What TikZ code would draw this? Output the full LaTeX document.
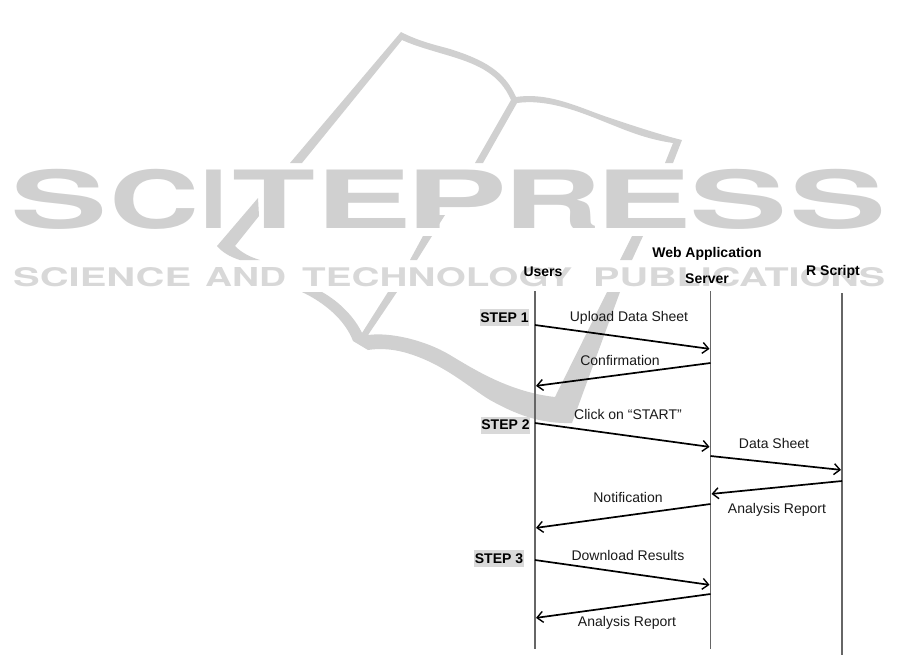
\documentclass[tikz,border=0pt]{standalone}
\usepackage{fontspec}
\usepackage{graphicx}
\usetikzlibrary{arrows.meta}
\setmainfont{Liberation Sans}
\newfontfamily\wmfont{TeX Gyre Heros}
\definecolor{wmgray}{HTML}{D0D0D0}
\definecolor{wmlight}{HTML}{D8D8D8}
\definecolor{stepgray}{HTML}{D9D9D9}
\definecolor{lifegray}{HTML}{666666}
% one watermark letter: left offset, box width, box height, letter
\newcommand\wmlet[4]{\rlap{\hspace*{#1pt}\resizebox{#2pt}{#3pt}{#4}}}
\tikzset{
  lbl/.style={font=\fontsize{14}{16}\selectfont, inner sep=0pt, text=black!90, yshift=-0.6pt},
  head/.style={font=\fontsize{14}{16}\selectfont\bfseries, inner sep=0pt, text=black, yshift=-0.5pt},
  stepbox/.style={font=\fontsize{14}{16}\selectfont\bfseries, inner sep=0pt, fill=stepgray, text=black, anchor=center},
  life/.style={draw=lifegray, line width=1.2pt},
  msg/.style={draw=black, line width=1.7pt, -{Straight Barb[length=6pt,width=11pt,line width=1.4pt]}, shorten >=1pt},
  wm/.style={fill=wmgray, draw=none},
  wmtext/.style={inner sep=0pt, text=wmgray, anchor=base west},
  wmsmall/.style={inner sep=0pt, text=wmlight, anchor=base west, font=\wmfont\bfseries},
}
\begin{document}
\begin{tikzpicture}[x=1pt,y=-1pt]
\useasboundingbox (0,0) rectangle (901,664);
% watermark text
\node[wmtext,font=\wmfont\bfseries] (wmA) at (14,228.5) {%
  \wmlet{-3.5}{97}{59.2}{S}\wmlet{95}{90}{59.2}{C}\wmlet{186.5}{27}{58.5}{I}\wmlet{218}{83}{58.5}{T}\wmlet{301.5}{96.5}{58.5}{E}%
  \wmlet{391}{102}{58.5}{P}\wmlet{489.5}{98}{58.5}{R}\wmlet{581.5}{96.5}{58.5}{E}\wmlet{675.5}{98}{59.2}{S}\wmlet{775.5}{97}{59.2}{S}\hspace*{869pt}};
\node[wmsmall] (wmB) at (13,286) {\resizebox{178pt}{19pt}{SCIENCE}};
\node[wmsmall] (wmC) at (205,286) {\resizebox{81pt}{19pt}{AND}};
\node[wmsmall] (wmD) at (302,286) {\resizebox{270pt}{19pt}{TECHNOLOGY}};
\node[wmsmall] (wmE) at (593,286) {\resizebox{292pt}{19pt}{PUBLICATIONS}};
% watermark book
\fill[wm] (401,32) .. controls (420,42) and (440,46) .. (450,49) .. controls (485,60) and (505,72) .. (516,97)
  .. controls (550,92) and (580,108) .. (610,118) .. controls (640,128) and (665,136) .. (682,140)
  -- (673,163) -- (665,163) -- (673,143) .. controls (645,139) and (625,130) .. (600,120) .. controls (575,110) and (545,99) .. (517,103)
  -- (483,163) -- (475,163) -- (511,100) .. controls (500,75) and (480,65) .. (450,56) .. controls (430,50) and (415,46) .. (402,40)
  -- (302,163) -- (290,163) -- cycle;
\fill[wm] (258,198) -- (259,216) -- (235,246) .. controls (242,253) and (250,257) .. (260,260) -- (240,260) .. controls (230,257) and (222,252) .. (217,246) -- cycle;
\fill[wm] (438,215) -- (445,215) -- (438,226) -- cycle;
\fill[wm] (423,236) -- (432,236) -- (417,260) -- (410,260) -- cycle;
\fill[wm] (632,236) -- (643,236) -- (632,260) -- (620,260) -- cycle;
\fill[wm] (302,292) -- (322,292) .. controls (340,302) and (355,318) .. (362,333) -- (388,292) -- (397,292) -- (368,335)
  .. controls (390,332) and (425,340) .. (450,355) .. controls (475,370) and (510,392) .. (555,397)
  -- (607,292) -- (620,292) -- (572,423) .. controls (540,424) and (515,414) .. (490,400)
  .. controls (470,388) and (445,365) .. (410,354) .. controls (395,349) and (380,348) .. (368,350)
  -- (353,341) .. controls (345,320) and (325,303) .. (302,292) -- cycle;
% lifelines
\coordinate (ut) at (535,291); \coordinate (ub) at (535,649);
\coordinate (st) at (710.5,291); \coordinate (sb) at (710.5,649);
\coordinate (rt) at (842,293); \coordinate (rb) at (842,655);
\draw[life] (ut) -- (ub);
\draw[life] (st) -- (sb);
\draw[life] (rt) -- (rb);
% headers
\node[head] (users) at (543,271) {Users};
\node[head] (webapp) at (707,253) {Web Application};
\node[head] (server) at (707,278) {Server};
\node[head] (rscript) at (833,271) {R Script};
% steps
\node[stepbox,minimum width=49pt,minimum height=17pt] (step1) at (504.5,317.5) {STEP 1};
\node[stepbox,minimum width=49pt,minimum height=17pt] (step2) at (505.5,425) {STEP 2};
\node[stepbox,minimum width=50pt,minimum height=17pt] (step3) at (499,558.5) {STEP 3};
% message endpoints
\coordinate (a1) at (535,325); \coordinate (a2) at (710.5,349);
\coordinate (b1) at (710.5,363); \coordinate (b2) at (535,386);
\coordinate (c1) at (535,423); \coordinate (c2) at (710.5,447);
\coordinate (d1) at (710.5,456); \coordinate (d2) at (842,470);
\coordinate (e1) at (842,481); \coordinate (e2) at (710.5,494);
\coordinate (f1) at (710.5,504); \coordinate (f2) at (535,528);
\coordinate (g1) at (535,560); \coordinate (g2) at (710.5,585);
\coordinate (h1) at (710.5,594); \coordinate (h2) at (535,618);
\draw[msg] (a1) -- (a2);
\draw[msg] (b1) -- (b2);
\draw[msg] (c1) -- (c2);
\draw[msg] (d1) -- (d2);
\draw[msg] (e1) -- (e2);
\draw[msg] (f1) -- (f2);
\draw[msg] (g1) -- (g2);
\draw[msg] (h1) -- (h2);
% labels
\node[lbl] (la) at (629,317) {Upload Data Sheet};
\node[lbl] (lb) at (620,360) {Confirmation};
\node[lbl] (lc) at (628,414) {Click on “START”};
\node[lbl] (ld) at (774,443) {Data Sheet};
\node[lbl] (le) at (777,509) {Analysis Report};
\node[lbl] (lf) at (628,497) {Notification};
\node[lbl] (lg) at (628,555) {Download Results};
\node[lbl] (lh) at (627,622) {Analysis Report};
\end{tikzpicture}
\end{document}
